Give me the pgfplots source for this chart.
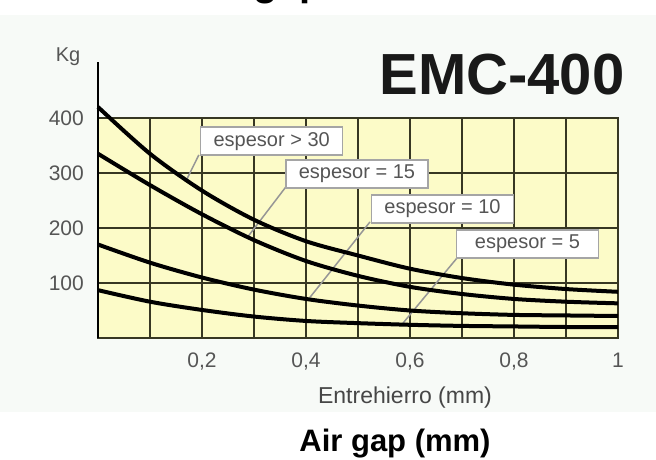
\documentclass[border=0pt]{standalone}
\usepackage{fontspec}
\setmainfont{Liberation Sans}
\usepackage{pgfplots}
\pgfplotsset{compat=1.18}
\definecolor{yellowbg}{RGB}{252,251,200}
\definecolor{gridc}{RGB}{55,55,35}
\definecolor{labgrey}{RGB}{85,85,85}
\definecolor{boxborder}{RGB}{165,165,165}
\definecolor{leader}{RGB}{150,150,150}
\definecolor{bgtint}{RGB}{247,250,247}
\begin{document}
\begin{tikzpicture}
\fill[bgtint] (0pt,47pt) rectangle (656pt,444pt);
\begin{scope}
\clip (0pt,454pt) rectangle (656pt,459pt);
\node[anchor=base east, inner sep=0pt, font=\bfseries\fontsize{40}{44}\selectfont] at (253pt,463pt) {Force vs. air\ };
\node[anchor=base west, inner sep=0pt, font=\bfseries\fontsize{40}{44}\selectfont] at (253pt,463pt) {gap};
\end{scope}
\begin{axis}[
  at={(98pt,121pt)}, anchor=south west,
  scale only axis, width=520pt, height=220pt,
  xmin=0, xmax=1, ymin=0, ymax=400,
  clip=false,
  axis background/.style={fill=yellowbg},
  axis line style={draw=none},
  major tick length=0pt,
  tick style={draw=none},
  xtick={0,0.1,0.2,0.3,0.4,0.5,0.6,0.7,0.8,0.9,1},
  xticklabels={,,{0,2},,{0,4},,{0,6},,{0,8},,1},
  ytick={100,200,300,400},
  yticklabels={100,200,300,400},
  grid=major,
  major grid style={gridc, line width=1.3pt},
  xticklabel style={anchor=north, inner sep=0pt, yshift=-15pt, text=labgrey, font=\fontsize{21}{24}\selectfont},
  yticklabel style={anchor=east, inner sep=0pt, xshift=-14pt, text=labgrey, font=\fontsize{21}{24}\selectfont},
]
% frame
\draw[gridc, line width=1.4pt] (axis cs:0,0) rectangle (axis cs:1,400);
% extended left axis line
\draw[black, line width=1.6pt] (axis cs:0,0) -- (axis cs:0,502);
% leader lines
\draw[leader, line width=1.5pt] (axis cs:0.194,333) -- (axis cs:0.171,289);
\draw[leader, line width=1.5pt] (axis cs:0.3615,275) -- (axis cs:0.2865,182);
\draw[leader, line width=1.5pt] (axis cs:0.523,211) -- (axis cs:0.4077,74);
\draw[leader, line width=1.5pt] (axis cs:0.690,145) -- (axis cs:0.5865,27);
% curves
\addplot[black, line width=4pt, smooth] coordinates {
 (0,420) (0.1,335) (0.2,268) (0.3,215) (0.4,176) (0.5,150) (0.6,126) (0.7,109) (0.8,97) (0.9,89) (1,84)};
\addplot[black, line width=4pt, smooth] coordinates {
 (0,335) (0.1,278) (0.2,225) (0.3,178) (0.4,140) (0.5,113) (0.6,93) (0.7,80) (0.8,71) (0.9,66) (1,63)};
\addplot[black, line width=4pt, smooth] coordinates {
 (0,170) (0.1,137) (0.2,110) (0.3,88) (0.4,71) (0.5,59) (0.6,50) (0.7,45) (0.8,42) (0.9,41) (1,40)};
\addplot[black, line width=4pt, smooth] coordinates {
 (0,87) (0.1,66) (0.2,51) (0.3,39) (0.4,31) (0.5,27) (0.6,24) (0.7,22) (0.8,21) (0.9,20) (1,20)};
% label boxes
\tikzset{lbox/.style={draw=boxborder, fill=white, line width=1.5pt, minimum width=142pt, minimum height=28pt, inner sep=0pt, text=labgrey, font=\fontsize{20}{23}\selectfont}}
\node[lbox] at (axis cs:0.334,358) {espesor > 30};
\node[lbox] at (axis cs:0.498,298) {espesor = 15};
\node[lbox] at (axis cs:0.6625,234.5) {espesor = 10};
\node[lbox] at (axis cs:0.826,171) {espesor = 5};
\end{axis}
\node[anchor=base, inner sep=0pt, text=labgrey, font=\fontsize{20}{22}\selectfont] at (68pt,397pt) {Kg};
\node[anchor=base, inner sep=0pt, font=\bfseries\fontsize{58}{60}\selectfont, text={rgb,255:red,25;green,25;blue,25}] at (502pt,364pt) {EMC-400};
\node[anchor=base, inner sep=0pt, text={rgb,255:red,70;green,70;blue,70}, font=\fontsize{23}{25}\selectfont] at (405pt,56pt) {Entrehierro (mm)};
\node[anchor=base, inner sep=0pt, font=\bfseries\fontsize{31}{34}\selectfont] at (395pt,8pt) {Air gap (mm)};
\pgfresetboundingbox
\useasboundingbox (0pt,0pt) rectangle (656pt,459pt);
\end{tikzpicture}
\end{document}
